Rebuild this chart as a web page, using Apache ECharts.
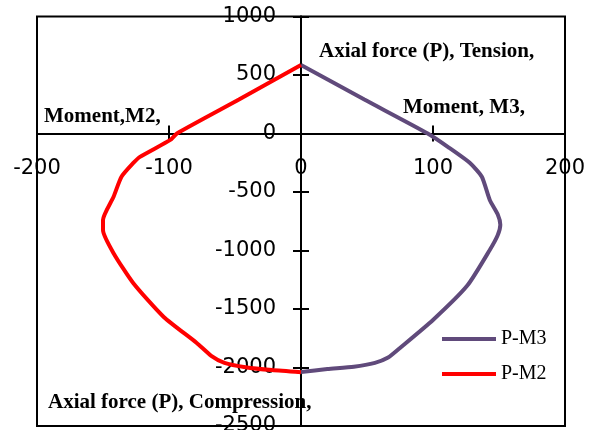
<!DOCTYPE html>
<html>
<head>
<meta charset="utf-8">
<script src="https://cdn.jsdelivr.net/npm/echarts@6/dist/echarts.min.js"></script>
<style>
  html, body { margin: 0; padding: 0; background: #ffffff; }
  #chart { width: 597px; height: 430px; }
</style>
</head>
<body>
<div id="chart"></div>
<script>
// P-M interaction curves: [moment, axial force]
const seriesNames = ['P-M3', 'P-M2'];

const pm3 = [
  [0, 585], [48, 290], [96, 0], [112, -120], [128, -252], [137, -370],
  [143, -568], [149, -690], [151, -780], [149, -870], [143, -996],
  [126, -1300], [100, -1594], [75, -1833], [66, -1915], [56, -1960],
  [40, -1993], [20, -2013], [0, -2038]
];

const pm2 = [
  [0, 585], [-47, 290], [-94, 0], [-99, -55], [-122, -200], [-127, -252],
  [-136, -370], [-142, -541], [-150, -739], [-150, -825], [-142, -1023],
  [-127, -1280], [-104, -1568], [-79, -1790], [-68, -1900], [-58, -1960],
  [-42, -1997], [-22, -2022], [0, -2040]
];

// Axis ranges and steps
const xRange = [-200, 200];
const xStep = 100;
const yRange = [-2500, 1000];
const yStep = 500;

// Captions placed around the axes
const captions = [
  { text: 'Axial force (P), Tension,', x: 319, y: 52 },
  { text: 'Moment, M3,', x: 403, y: 108 },
  { text: 'Moment,M2,', x: 44, y: 117 },
  { text: 'Axial force (P), Compression,', x: 48, y: 403 }
];

const colors = { 'P-M3': '#604a7b', 'P-M2': '#ff0000' };

// Plot frame
const W = 597, H = 430;
const gridBox = { left: 37, right: 32, top: 16.5, bottom: 4 };
const plotW = W - gridBox.left - gridBox.right;
const plotH = H - gridBox.top - gridBox.bottom;
// Shift that carries the labelled axes from the frame edge onto the zero lines
const yAxisShift = -plotW * (0 - xRange[0]) / (xRange[1] - xRange[0]);
const xAxisShift = -plotH * (0 - yRange[0]) / (yRange[1] - yRange[0]);

const tickFont = { fontFamily: 'DejaVu Sans', fontSize: 21, color: '#000' };
const lineStyle = { color: '#000', width: 2 };
const tick = { show: true, inside: false, length: 8, lineStyle: lineStyle };
const plain = v => String(v);

const xAxes = [
  { // labelled axis with downward ticks, moved onto y = 0
    type: 'value', position: 'bottom', offset: xAxisShift,
    min: xRange[0], max: xRange[1], interval: xStep,
    axisLine: { show: true, onZero: false, lineStyle: lineStyle },
    axisTick: tick, splitLine: { show: false },
    axisLabel: Object.assign({ show: true, margin: 25, formatter: plain }, tickFont)
  },
  { // upward ticks on y = 0
    type: 'value', position: 'top',
    min: xRange[0], max: xRange[1], interval: xStep,
    axisLine: { show: true, onZero: true, lineStyle: lineStyle },
    axisTick: tick, splitLine: { show: false }, axisLabel: { show: false }
  }
];

const yAxes = [
  { // labelled axis with leftward ticks, moved onto x = 0
    type: 'value', position: 'left', offset: yAxisShift,
    min: yRange[0], max: yRange[1], interval: yStep,
    axisLine: { show: true, onZero: false, lineStyle: lineStyle },
    axisTick: tick, splitLine: { show: false },
    axisLabel: Object.assign({ show: true, margin: 25, formatter: plain }, tickFont)
  },
  { // rightward ticks on x = 0
    type: 'value', position: 'right',
    min: yRange[0], max: yRange[1], interval: yStep,
    axisLine: { show: true, onZero: true, lineStyle: lineStyle },
    axisTick: tick, splitLine: { show: false }, axisLabel: { show: false }
  }
];

const chart = echarts.init(document.getElementById('chart'), null, { renderer: 'canvas' });

chart.setOption({
  animation: false,
  backgroundColor: '#ffffff',
  grid: Object.assign({
    containLabel: false, outerBoundsMode: 'none',
    show: true, borderColor: '#000', borderWidth: 2, backgroundColor: 'transparent'
  }, gridBox),
  xAxis: xAxes,
  yAxis: yAxes,
  legend: {
    data: seriesNames,
    orient: 'vertical',
    left: 437, top: 324,
    icon: 'rect', itemWidth: 54, itemHeight: 4, itemGap: 15,
    textStyle: { fontFamily: 'Liberation Serif', fontSize: 20, color: '#000' }
  },
  graphic: captions.map(c => ({
    type: 'text',
    x: c.x, y: c.y,
    style: {
      text: c.text,
      font: 'bold 21px "Liberation Serif"',
      fill: '#000',
      verticalAlign: 'middle'
    },
    z: 10
  })),
  series: [
    {
      name: 'P-M3', type: 'line', data: pm3, xAxisIndex: 0, yAxisIndex: 0,
      showSymbol: false, smooth: 0.2, color: colors['P-M3'],
      lineStyle: { color: colors['P-M3'], width: 4 }
    },
    {
      name: 'P-M2', type: 'line', data: pm2, xAxisIndex: 0, yAxisIndex: 0,
      showSymbol: false, smooth: 0.2, color: colors['P-M2'],
      lineStyle: { color: colors['P-M2'], width: 4 }
    }
  ]
});
</script>
</body>
</html>
